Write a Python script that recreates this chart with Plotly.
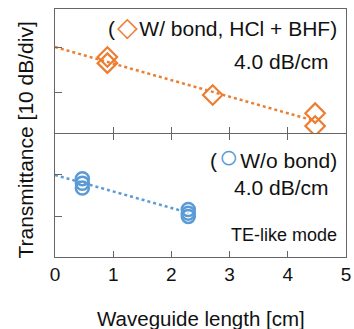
import plotly.graph_objects as go

# Data (transmittance in dB, relative)
bond_len = [0.90, 0.90, 2.71, 4.47, 4.47]
bond_tr = [-11.6, -13.1, -20.8, -25.2, -28.3]
bond_fit_x = [0.0, 4.47]
bond_fit_y = [-9.2, -27.1]

nobond_len = [0.47, 0.47, 0.47, 2.29, 2.29, 2.29]
nobond_tr = [-10.9, -12.0, -13.2, -18.4, -19.3, -20.1]
nobond_fit_x = [0.0, 2.29]
nobond_fit_y = [-10.0, -19.2]

x_ticks = [0, 1, 2, 3, 4, 5]
top_yticks = [-9.2, -20.1]
bot_yticks = [-10, -20]

ORANGE = "#ED7D31"
BLUE = "#5B9BD5"
AX = "#666666"
FONT = "Liberation Sans, Arial, sans-serif"

fig = go.Figure()
fig.add_trace(go.Scatter(x=bond_fit_x, y=bond_fit_y, mode="lines",
                         line=dict(color=ORANGE, width=2.5, dash="dot"),
                         xaxis="x", yaxis="y", showlegend=False))
fig.add_trace(go.Scatter(x=bond_len, y=bond_tr, mode="markers",
                         marker=dict(symbol="diamond-open", size=15, color=ORANGE,
                                     line=dict(width=2.2, color=ORANGE)),
                         xaxis="x", yaxis="y", showlegend=False))
fig.add_trace(go.Scatter(x=nobond_fit_x, y=nobond_fit_y, mode="lines",
                         line=dict(color=BLUE, width=2.5, dash="dot"),
                         xaxis="x2", yaxis="y2", showlegend=False))
fig.add_trace(go.Scatter(x=nobond_len, y=nobond_tr, mode="markers",
                         marker=dict(symbol="circle-open", size=13, color=BLUE,
                                     line=dict(width=2.5, color=BLUE)),
                         xaxis="x2", yaxis="y2", showlegend=False))

common_x = dict(range=[0, 5], tickvals=x_ticks, ticks="inside", ticklen=6,
                tickcolor=AX, showline=True, linecolor=AX, linewidth=1,
                showgrid=False, zeroline=False)
common_y = dict(ticks="inside", ticklen=7, tickcolor=AX, showline=True,
                linecolor=AX, linewidth=1, showgrid=False, zeroline=False,
                showticklabels=False, mirror=True)

fig.update_layout(
    width=354, height=329,
    margin=dict(l=55, r=3, t=9, b=72),
    paper_bgcolor="white", plot_bgcolor="white",
    font=dict(family=FONT, color="#111111", size=19),
    xaxis=dict(common_x, anchor="y", domain=[0, 1], showticklabels=False,
               side="bottom", mirror=True),
    yaxis=dict(common_y, anchor="x", domain=[0.5, 1], range=[-30, 0],
               tickvals=top_yticks),
    xaxis2=dict(common_x, anchor="y2", domain=[0, 1], showticklabels=True,
                mirror="ticks", ticklabeloverflow="allow",
                tickfont=dict(size=19, family=FONT, color="#111111")),
    yaxis2=dict(common_y, anchor="x2", domain=[0, 0.496], range=[-30, 0],
                tickvals=bot_yticks),
)

def ann(text, x, y, size=21, xanchor="right", **kw):
    fig.add_annotation(text=text, x=x, y=y, xref="paper", yref="paper",
                       xanchor=xanchor, yanchor="middle", showarrow=False,
                       font=dict(size=size, family=FONT, color="#111111"), **kw)

SP = '<span style="font-size:6px"> </span>'
ann('(' + SP + '<span style="color:%s;font-size:27px">◇</span>' % ORANGE + SP
    + 'W/ bond, HCl + BHF)', 0.975, 0.927)
ann("4.0 dB/cm", 0.948, 0.790)
ann('(' + SP + '<span style="color:%s;font-size:33px">○</span>' % BLUE + SP
    + 'W/o bond)', 0.975, 0.407)
ann("4.0 dB/cm", 0.950, 0.282)
ann("TE-like mode", 0.975, 0.089, size=18)
ann("Transmittance [10 dB/div]", -0.101, 0.472, xanchor="center", textangle=-90)
ann("Waveguide length [cm]", 0.5, -0.246, size=20.5, xanchor="center")

fig.write_html("out.html", config={"displayModeBar": False},
               post_script="document.body.style.margin='0';document.body.style.overflow='hidden';")
